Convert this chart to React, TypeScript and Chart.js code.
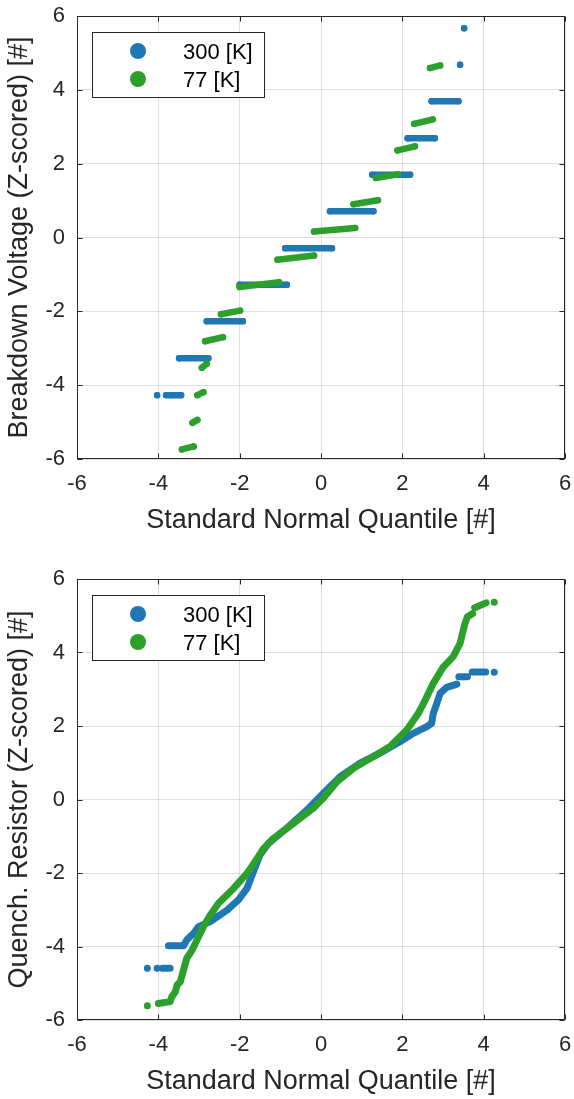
import React, { useEffect, useRef } from 'react';
import { Chart, registerables } from 'chart.js';

Chart.register(...registerables);

// ---------- shared axis data ----------
const AXIS_MIN = -6;
const AXIS_MAX = 6;
const tickValues = [-6, -4, -2, 0, 2, 4, 6];
const xTitle = 'Standard Normal Quantile [#]';
const seriesLabels = ['300 [K]', '77 [K]'];
const seriesColors = ['#1f77b4', '#2ca02c'];

// ---------- top chart: Breakdown Voltage (null separates runs of tied points) ----------
const bvTitle = 'Breakdown Voltage (Z-scored) [#]';
const bvX300 = [-4.03, null, -3.81, null, -3.72, -3.44, null, -3.49, -2.77, null, -2.81, -1.92, null, -2.0, -0.84, null, -0.88, 0.27, null, 0.22, 1.29, null, 1.26, 2.19, null, 2.13, 2.8, null, 2.72, 3.38, null, 3.42, null, 3.52];
const bvY300 = [-4.27, null, -4.27, null, -4.27, -4.27, null, -3.27, -3.27, null, -2.27, -2.27, null, -1.28, -1.28, null, -0.29, -0.29, null, 0.71, 0.71, null, 1.7, 1.7, null, 2.69, 2.69, null, 3.69, 3.69, null, 4.68, null, 5.67];
const bvX77 = [-3.42, -3.13, null, -3.16, -3.04, null, -3.04, -2.89, null, -2.93, -2.81, null, -2.85, -2.41, null, -2.46, -1.99, null, -2.0, -1.03, null, -1.07, -0.17, null, -0.17, 0.84, null, 0.8, 1.4, null, 1.35, 1.89, null, 1.88, 2.31, null, 2.29, 2.75, null, 2.68, 2.93];
const bvY77 = [-5.74, -5.66, null, -5.02, -4.94, null, -4.27, -4.19, null, -3.53, -3.42, null, -2.81, -2.7, null, -2.08, -1.98, null, -1.34, -1.21, null, -0.6, -0.49, null, 0.16, 0.26, null, 0.9, 1.01, null, 1.61, 1.71, null, 2.36, 2.47, null, 3.08, 3.2, null, 4.59, 4.66];

// ---------- bottom chart: Quench. Resistor ----------
const qrTitle = 'Quench. Resistor (Z-scored) [#]';
const qrX300 = [-4.27, null, -4.03, null, -3.9, -3.71, null, -3.75, -3.38, -3.3, -3.13, -3.01, -2.72, -2.31, -2.03, -1.82, -1.66, -1.5, -1.29, -0.84, -0.35, 0.06, 0.47, 0.96, 1.45, 1.94, 2.27, 2.6, 2.72, 2.76, 2.85, 2.93, 3.09, 3.34, null, 3.39, 3.6, null, 3.72, 4.05, null, 4.26];
const qrY300 = [-4.59, null, -4.59, null, -4.59, -4.59, null, -3.98, -3.98, -3.82, -3.64, -3.46, -3.32, -3.01, -2.73, -2.42, -1.96, -1.51, -1.19, -0.78, -0.29, 0.17, 0.62, 0.99, 1.26, 1.57, 1.8, 1.98, 2.07, 2.34, 2.62, 2.89, 3.05, 3.14, null, 3.34, 3.34, null, 3.47, 3.47, null, 3.46];
const qrX77 = [-4.27, null, -4.0, -3.71, -3.67, -3.58, -3.54, -3.46, -3.38, -3.3, -3.17, -3.05, -2.89, -2.72, -2.52, -2.15, -1.82, -1.62, -1.41, -1.17, -0.68, -0.19, 0.05, 0.39, 0.8, 1.29, 1.7, 2.11, 2.39, 2.56, 2.76, 3.01, 3.25, 3.42, 3.54, 3.6, 3.73, null, 3.78, 4.06, null, 4.26];
const qrY77 = [-5.61, null, -5.55, -5.5, -5.37, -5.23, -5.05, -4.96, -4.64, -4.32, -4.1, -3.82, -3.46, -3.14, -2.82, -2.42, -2.01, -1.69, -1.33, -1.06, -0.65, -0.24, 0.03, 0.48, 0.85, 1.17, 1.44, 1.89, 2.34, 2.7, 3.16, 3.61, 3.89, 4.25, 4.79, 4.97, 5.06, null, 5.22, 5.35, null, 5.37];

// ---------- styling ----------
const INK = '#262626';
const GRID = 'rgba(38,38,38,0.15)';
const FONT = "'Liberation Sans', Arial, Helvetica, sans-serif";
const TICK_SIZE = 22;
const TITLE_SIZE = 27;

function toPoints(xs: (number | null)[], ys: (number | null)[]) {
  return xs.map((x, i) => ({ x: x, y: ys[i] }));
}

const framePlugin = {
  id: 'frame',
  afterDraw(chart: any) {
    const { ctx, chartArea: a, scales } = chart;
    const l = Math.round(a.left) + 0.5;
    const r = Math.round(a.right) - 0.5;
    const t = Math.round(a.top) + 0.5;
    const b = Math.round(a.bottom) - 0.5;
    ctx.save();
    ctx.strokeStyle = INK;
    ctx.lineWidth = 1;
    ctx.strokeRect(l, t, r - l, b - t);
    const len = 5;
    ctx.beginPath();
    tickValues.forEach((v) => {
      const px = Math.round(scales.x.getPixelForValue(v)) + 0.5;
      ctx.moveTo(px, b);
      ctx.lineTo(px, b - len);
      ctx.moveTo(px, t);
      ctx.lineTo(px, t + len);
      const py = Math.round(scales.y.getPixelForValue(v)) + 0.5;
      ctx.moveTo(l, py);
      ctx.lineTo(l + len, py);
      ctx.moveTo(r, py);
      ctx.lineTo(r - len, py);
    });
    ctx.stroke();
    ctx.restore();
  },
};

const legendPlugin = {
  id: 'legendBox',
  afterDraw(chart: any) {
    const { ctx, chartArea: a } = chart;
    const bx = Math.round(a.left) + 15.5;
    const by = Math.round(a.top) + 16.5;
    const bw = 172;
    const bh = 65;
    ctx.save();
    ctx.fillStyle = '#ffffff';
    ctx.fillRect(bx, by, bw, bh);
    ctx.strokeStyle = INK;
    ctx.lineWidth = 1;
    ctx.strokeRect(bx, by, bw, bh);
    ctx.font = `${TICK_SIZE}px ${FONT}`;
    ctx.textBaseline = 'middle';
    ctx.textAlign = 'left';
    chart.data.datasets.forEach((ds: any, i: number) => {
      const cy = by + 18.5 + i * 28;
      ctx.fillStyle = ds.backgroundColor;
      ctx.beginPath();
      ctx.arc(a.left + 61, cy, 8, 0, Math.PI * 2);
      ctx.fill();
      ctx.fillStyle = '#000000';
      ctx.fillText(ds.label, a.left + 106, cy + 1.5);
    });
    ctx.restore();
  },
};

function makeDataset(label: string, color: string, xs: any[], ys: any[], width: number, radius: number, order: number) {
  return {
    label,
    data: toPoints(xs, ys),
    showLine: true,
    spanGaps: false,
    borderColor: color,
    backgroundColor: color,
    borderWidth: width,
    borderCapStyle: 'round',
    borderJoinStyle: 'round',
    pointRadius: radius,
    pointBorderWidth: 0,
    pointHoverRadius: radius,
    pointBackgroundColor: color,
    tension: 0,
    order,
  };
}

function buildOptions(yTitle: string) {
  const tickFont = { family: FONT, size: TICK_SIZE };
  const titleFont = { family: FONT, size: TITLE_SIZE };
  return {
    responsive: false,
    animation: false,
    events: [],
    layout: { padding: { top: 16, right: 9, left: 0, bottom: 0 } },
    plugins: { legend: { display: false }, tooltip: { enabled: false } },
    scales: {
      x: {
        type: 'linear',
        position: 'bottom',
        min: AXIS_MIN,
        max: AXIS_MAX,
        afterFit: (s: any) => {
          s.height = 79;
          s.paddingLeft = 0;
          s.paddingRight = 0;
        },
        afterBuildTicks: (s: any) => {
          s.ticks = tickValues.map((v) => ({ value: v }));
        },
        ticks: {
          padding: 12,
          color: INK,
          font: tickFont,
          maxRotation: 0,
          autoSkip: false,
          callback: (v: any) => String(v),
        },
        grid: { color: GRID, drawTicks: false, lineWidth: 1 },
        border: { display: false },
        title: { display: true, text: xTitle, color: INK, font: titleFont, padding: { top: 0, bottom: 1 } },
      },
      y: {
        type: 'linear',
        position: 'left',
        min: AXIS_MIN,
        max: AXIS_MAX,
        afterFit: (s: any) => {
          s.width = 77;
          s.paddingTop = 0;
          s.paddingBottom = 0;
        },
        afterBuildTicks: (s: any) => {
          s.ticks = tickValues.map((v) => ({ value: v }));
        },
        ticks: {
          padding: 12,
          color: INK,
          font: tickFont,
          autoSkip: false,
          callback: (v: any) => String(v),
        },
        grid: { color: GRID, drawTicks: false, lineWidth: 1 },
        border: { display: false },
        title: { display: true, text: yTitle, color: INK, font: titleFont, padding: { top: 3, bottom: 0 } },
      },
    },
  };
}

function QQPanel(props: {
  top: number;
  height: number;
  yTitle: string;
  x300: any[];
  y300: any[];
  x77: any[];
  y77: any[];
  width: number;
  radius: number;
}) {
  const ref = useRef<HTMLCanvasElement | null>(null);
  useEffect(() => {
    if (!ref.current) return;
    const chart = new Chart(ref.current, {
      type: 'scatter',
      data: {
        datasets: [
          makeDataset(seriesLabels[0], seriesColors[0], props.x300, props.y300, props.width, props.radius, 1),
          makeDataset(seriesLabels[1], seriesColors[1], props.x77, props.y77, props.width, props.radius, 0),
        ],
      },
      options: buildOptions(props.yTitle) as any,
      plugins: [framePlugin, legendPlugin],
    } as any);
    return () => chart.destroy();
  }, []);
  return (
    <canvas
      ref={ref}
      width={574}
      height={props.height}
      style={{ position: 'absolute', left: 0, top: props.top, width: 574, height: props.height, display: 'block' }}
    />
  );
}

export default function App() {
  return (
    <div style={{ position: 'absolute', left: 0, top: 0, width: 574, height: 1099, background: '#ffffff', overflow: 'hidden' }}>
      <QQPanel top={0} height={538} yTitle={bvTitle} x300={bvX300} y300={bvY300} x77={bvX77} y77={bvY77} width={6.5} radius={3.2} />
      <QQPanel top={563} height={536} yTitle={qrTitle} x300={qrX300} y300={qrY300} x77={qrX77} y77={qrY77} width={7} radius={3} />
    </div>
  );
}
